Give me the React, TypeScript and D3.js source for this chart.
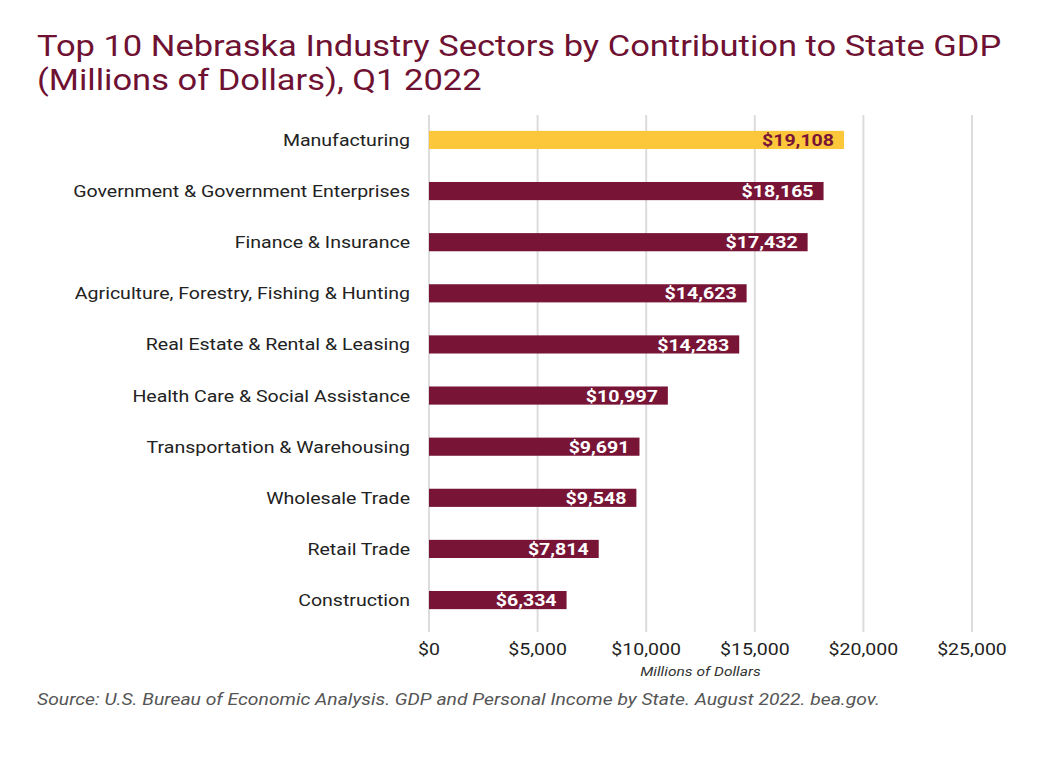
import React from "react";
import * as d3 from "d3";

const categories = [
  "Manufacturing",
  "Government & Government Enterprises",
  "Finance & Insurance",
  "Agriculture, Forestry, Fishing & Hunting",
  "Real Estate & Rental & Leasing",
  "Health Care & Social Assistance",
  "Transportation & Warehousing",
  "Wholesale Trade",
  "Retail Trade",
  "Construction",
];
const values = [19108, 18165, 17432, 14623, 14283, 10997, 9691, 9548, 7814, 6334];
const tickValues = [0, 5000, 10000, 15000, 20000, 25000];

const W = 1040;
const H = 759;
const MAROON = "#781537";
const GOLD = "#fdc73c";
const FONT = "Roboto, 'Open Sans', sans-serif";
// the typeface is set a little wide
const SX = 1.15;

type LabelProps = {
  x: number;
  y: number;
  children: React.ReactNode;
  [k: string]: unknown;
};

function Label({ x, y, children, ...rest }: LabelProps) {
  return (
    <text transform={`translate(${x},${y}) scale(${SX},1)`} {...(rest as object)}>
      {children}
    </text>
  );
}

export default function App() {
  const x = d3.scaleLinear().domain([0, 25000]).range([429, 972]);
  const y = d3.scaleBand<string>().domain(categories).range([114.5, 625.5]).paddingInner(0.645).paddingOuter(0.32);
  const money = (v: number) => "$" + d3.format(",")(v);

  return (
    <svg width={W} height={H} style={{ position: "absolute", left: 0, top: 0, background: "#fff" }} fontFamily={FONT}>
      <rect width={W} height={H} fill="#fff" />
      <Label x={37} y={56} fontSize={30} fill="#6e1132">
        Top 10 Nebraska Industry Sectors by Contribution to State GDP
      </Label>
      <Label x={37} y={90} fontSize={30} fill="#6e1132">
        (Millions of Dollars), Q1 2022
      </Label>

      {tickValues.map((t) => (
        <line key={t} x1={x(t)} x2={x(t)} y1={115} y2={632} stroke="#dcdcdc" strokeWidth={2} />
      ))}

      {categories.map((c, i) => {
        const yy = y(c)!;
        const bh = y.bandwidth();
        const first = i === 0;
        return (
          <g key={c}>
            <rect x={x(0)} y={yy} width={x(values[i]) - x(0)} height={bh} fill={first ? GOLD : MAROON} />
            <Label x={410} y={yy + bh / 2} dy="0.35em" textAnchor="end" fontSize={17} fill="#222">
              {c}
            </Label>
            <Label
              x={x(values[i]) - 10}
              y={yy + bh / 2}
              dy="0.36em"
              textAnchor="end"
              fontSize={17}
              fontWeight="bold"
              fill={first ? MAROON : "#fff"}
            >
              {money(values[i])}
            </Label>
          </g>
        );
      })}

      {tickValues.map((t) => (
        <Label key={t} x={x(t)} y={655} textAnchor="middle" fontSize={17} fill="#222">
          {money(t)}
        </Label>
      ))}
      <Label x={x(12500)} y={676} textAnchor="middle" fontSize={13.5} fontStyle="italic" fill="#333">
        Millions of Dollars
      </Label>
      <Label x={37} y={705} fontSize={16.8} fontStyle="italic" fill="#555">
        Source: U.S. Bureau of Economic Analysis. GDP and Personal Income by State. August 2022. bea.gov.
      </Label>
    </svg>
  );
}
